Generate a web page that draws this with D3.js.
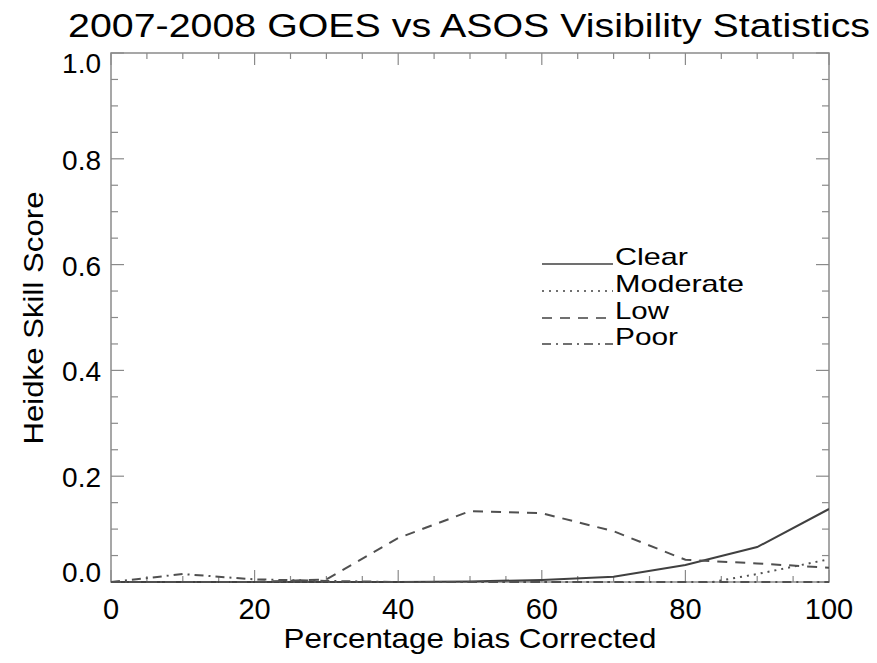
<!DOCTYPE html>
<html><head><meta charset="utf-8">
<script src="https://cdn.jsdelivr.net/npm/d3@7"></script>
<style>body{margin:0;background:#fff}svg{display:block}text{font-family:"Liberation Sans",Arial,sans-serif;fill:#000}</style>
</head><body><div id="chart"></div>
<script>
const xValues = [0,10,20,30,40,50,60,70,80,90,100];
const clear    = [0,0,0,0,0,0.001,0.004,0.010,0.032,0.066,0.138];
const moderate = [0,0,0,0,0,0,0,0,-0.009,0.015,0.043];
const low      = [0,0,0,0.005,0.083,0.134,0.130,0.096,0.042,0.035,0.027];
const poor     = [0,0.015,0.005,0.002,0,0,0,0,0,0,0];
const seriesNames = ["Clear","Moderate","Low","Poor"];
const xTicks = [0,20,40,60,80,100];
const yTicks = [0,0.2,0.4,0.6,0.8,1.0];

const W=877,H=663;
const L=111,R=829,T=53,B=582;
const svg=d3.select("#chart").append("svg").attr("width",W).attr("height",H);
const x=d3.scaleLinear().domain([0,100]).range([L,R]);
const y=d3.scaleLinear().domain([0,1]).range([B,T]);
const axisColor="#8a8a8a";

// frame
svg.append("rect").attr("x",L).attr("y",T).attr("width",R-L).attr("height",B-T)
  .attr("fill","none").attr("stroke",axisColor).attr("stroke-width",1.5);

// ticks
const xMinor=d3.range(0,101,5), yMinor=d3.range(0,1.0001,0.05);
const tg=svg.append("g").attr("stroke",axisColor).attr("stroke-width",1.2);
xMinor.forEach(v=>{
  const len = (Math.round(v)%20===0)?12:6;
  tg.append("line").attr("x1",x(v)).attr("x2",x(v)).attr("y1",B).attr("y2",B-len);
  tg.append("line").attr("x1",x(v)).attr("x2",x(v)).attr("y1",T).attr("y2",T+len);
});
yMinor.forEach(v=>{
  const major = Math.abs(v*5-Math.round(v*5))<1e-6;
  const len = major?13:7;
  tg.append("line").attr("y1",y(v)).attr("y2",y(v)).attr("x1",L).attr("x2",L+len);
  tg.append("line").attr("y1",y(v)).attr("y2",y(v)).attr("x1",R).attr("x2",R-len);
});

// tick labels
svg.append("g").selectAll("text").data(xTicks).join("text")
  .attr("x",d=>x(d)).attr("y",619).attr("text-anchor","middle")
  .attr("font-size",29).text(d=>d);
svg.append("g").selectAll("text").data(yTicks).join("text")
  .attr("x",101).attr("y",d=>{
     let yy=y(d)+11;
     if(d===0) yy=y(d)+0;
     if(d===1) yy=y(d)+20;
     return yy;})
  .attr("text-anchor","end").attr("font-size",28).text(d=>d3.format(".1f")(d));

// titles
svg.append("text").attr("x",469).attr("y",37).attr("text-anchor","middle")
  .attr("font-size",33).attr("textLength",802).attr("lengthAdjust","spacingAndGlyphs")
  .text("2007-2008 GOES vs ASOS Visibility Statistics");
svg.append("text").attr("x",470).attr("y",648).attr("text-anchor","middle")
  .attr("font-size",28).attr("textLength",373).attr("lengthAdjust","spacingAndGlyphs")
  .text("Percentage bias Corrected");
svg.append("text").attr("transform","translate(43,318) rotate(-90)").attr("text-anchor","middle")
  .attr("font-size",28).attr("textLength",253).attr("lengthAdjust","spacingAndGlyphs")
  .text("Heidke Skill Score");

// lines
svg.append("clipPath").attr("id","clip").append("rect")
  .attr("x",L).attr("y",T).attr("width",R-L).attr("height",B-T+1);
const styles=[
  {data:clear, dash:null, color:"#404040"},
  {data:moderate, dash:"2,5", color:"#505050"},
  {data:low, dash:"10,8", color:"#505050"},
  {data:poor, dash:"9,5,2,5", color:"#505050"}
];
const line=d3.line().x((d,i)=>x(xValues[i])).y(d=>y(d));
const lg=svg.append("g").attr("clip-path","url(#clip)");
styles.forEach(s=>{
  lg.append("path").attr("d",line(s.data)).attr("fill","none")
    .attr("stroke",s.color).attr("stroke-width",2)
    .attr("stroke-dasharray",s.dash);
});

// legend
const legY=[264,291,318,344];
const legW=[73,129,54,63];
seriesNames.forEach((n,i)=>{
  svg.append("line").attr("x1",542).attr("x2",613).attr("y1",legY[i]).attr("y2",legY[i])
    .attr("stroke","#707070").attr("stroke-width",2).attr("stroke-dasharray",styles[i].dash);
  svg.append("text").attr("x",615).attr("y",legY[i]+1).attr("font-size",24)
    .attr("textLength",legW[i]).attr("lengthAdjust","spacingAndGlyphs").text(n);
});
</script></body></html>
